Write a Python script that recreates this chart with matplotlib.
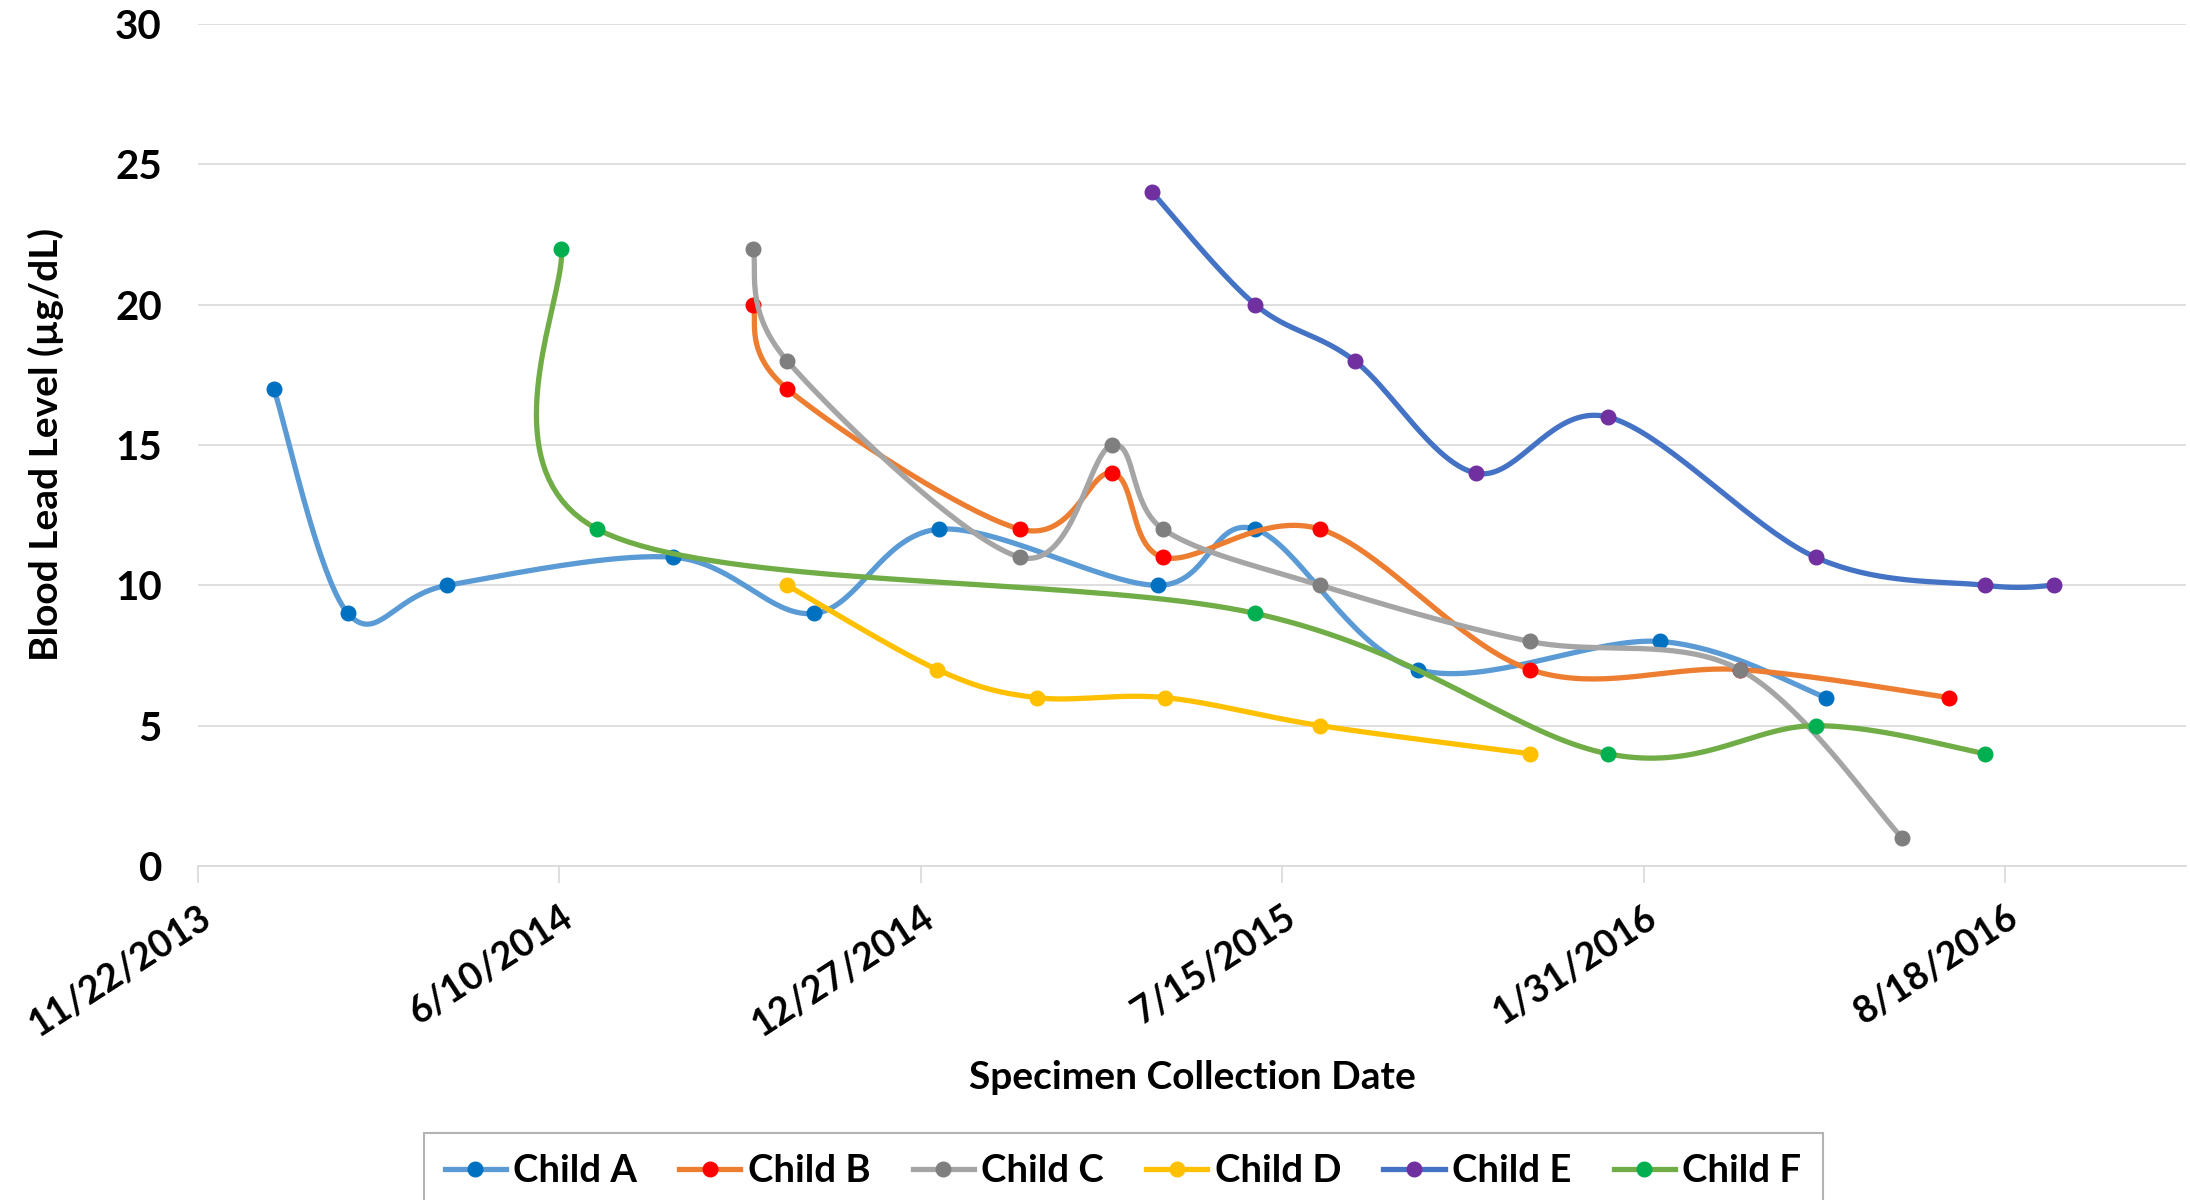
import numpy as np
import pandas as pd
import matplotlib
matplotlib.use("Agg")
import matplotlib.pyplot as plt
import matplotlib.dates as mdates
from matplotlib.lines import Line2D

plt.rcParams['font.family'] = ['Lato', 'DejaVu Sans']
plt.rcParams['font.weight'] = 'bold'

#%% data
children = ["Child A", "Child B", "Child C", "Child D", "Child E", "Child F"]

dates_a = ["2014-01-03", "2014-02-13", "2014-04-09", "2014-08-12", "2014-10-29", "2015-01-06",
           "2015-05-07", "2015-06-30", "2015-09-28", "2016-02-09", "2016-05-11"]
lead_a = [17, 9, 10, 11, 9, 12, 10, 12, 7, 8, 6]

dates_b = ["2014-09-25", "2014-10-14", "2015-02-20", "2015-04-12", "2015-05-10", "2015-08-05",
           "2015-11-29", "2016-03-24", "2016-07-18"]
lead_b = [20, 17, 12, 14, 11, 12, 7, 7, 6]

dates_c = ["2014-09-25", "2014-10-14", "2015-02-20", "2015-04-12", "2015-05-10", "2015-08-05",
           "2015-11-29", "2016-03-24", "2016-06-22"]
lead_c = [22, 18, 11, 15, 12, 10, 8, 7, 1]

dates_d = ["2014-10-14", "2015-01-05", "2015-03-01", "2015-05-11", "2015-08-05", "2015-11-29"]
lead_d = [10, 7, 6, 6, 5, 4]

dates_e = ["2015-05-04", "2015-06-30", "2015-08-24", "2015-10-30", "2016-01-11", "2016-05-05",
           "2016-08-07", "2016-09-14"]
lead_e = [24, 20, 18, 14, 16, 11, 10, 10]

dates_f = ["2014-06-11", "2014-07-01", "2015-06-30", "2016-01-11", "2016-05-05", "2016-08-07"]
lead_f = [22, 12, 9, 4, 5, 4]

line_colors = ["#5B9BD5", "#ED7D31", "#A5A5A5", "#FFC000", "#4472C4", "#70AD47"]
marker_colors = ["#0070C0", "#FF0000", "#7F7F7F", "#FFC000", "#7030A0", "#00B050"]

tick_dates = ["2013-11-22", "2014-06-10", "2014-12-27", "2015-07-15", "2016-01-31", "2016-08-18"]
x_start, x_end = "2013-11-22", "2016-11-26"

series = [(dates_a, lead_a), (dates_b, lead_b), (dates_c, lead_c),
          (dates_d, lead_d), (dates_e, lead_e), (dates_f, lead_f)]

#%% figure
fig = plt.figure(figsize=(21.9, 12), dpi=100)
ax = fig.add_axes([198 / 2190, 1 - 866 / 1200, 1988 / 2190, 842 / 1200])

x0 = mdates.datestr2num(x_start)
x1 = mdates.datestr2num(x_end)
ax_w, ax_h = 1988.0, 842.0
y_max = 30.0


def smooth(xs, ys, n=40):
    # excel-like smoothed line: catmull-rom bezier in screen space
    px = (np.asarray(xs) - x0) / (x1 - x0) * ax_w
    py = np.asarray(ys, dtype=float) / y_max * ax_h
    pts = np.column_stack([px, py])
    out = [pts[0]]
    for i in range(len(pts) - 1):
        p0 = pts[i - 1] if i > 0 else pts[i]
        p1 = pts[i]
        p2 = pts[i + 1]
        p3 = pts[i + 2] if i + 2 < len(pts) else pts[i + 1]
        c1 = p1 + (p2 - p0) / 6.0
        c2 = p2 - (p3 - p1) / 6.0
        t = np.linspace(0, 1, n)[1:, None]
        b = ((1 - t) ** 3) * p1 + 3 * ((1 - t) ** 2) * t * c1 + 3 * (1 - t) * t ** 2 * c2 + t ** 3 * p2
        out.extend(b)
    out = np.array(out)
    return out[:, 0] / ax_w * (x1 - x0) + x0, out[:, 1] / ax_h * y_max


for k, (dts, vals) in enumerate(series):
    xs = mdates.datestr2num(dts)
    sx, sy = smooth(xs, vals)
    ax.plot(sx, sy, color=line_colors[k], linewidth=3.8, solid_capstyle='round', zorder=2 + k)
    ax.plot(xs, vals, linestyle='none', marker='o', markersize=10.5,
            color=marker_colors[k], zorder=2 + k)

ax.set_xlim(x0, x1)
ax.set_ylim(0, 30)
ax.set_yticks(np.arange(0, 31, 5))
ax.set_xticks(mdates.datestr2num(tick_dates))
ax.set_xticklabels([f"{d.month}/{d.day}/{d.year}" for d in pd.to_datetime(tick_dates)],
                   rotation=33, ha='right', rotation_mode='anchor')

ax.grid(axis='y', color='#D9D9D9', linewidth=1.2)
ax.set_axisbelow(True)
for s in ['top', 'right', 'left']:
    ax.spines[s].set_visible(False)
ax.spines['bottom'].set_color('#D9D9D9')
ax.spines['bottom'].set_linewidth(1.2)
ax.tick_params(axis='y', length=0, pad=26, labelsize=29)
ax.tick_params(axis='x', length=12, width=1.2, color='#D9D9D9', pad=12, labelsize=27)

ax.set_xlabel("Specimen Collection Date", fontsize=28, fontweight='bold')
ax.xaxis.set_label_coords(0.5, -0.2506)
ax.xaxis.label.set_va('center')
ax.set_ylabel("Blood Lead Level (µg/dL)", fontsize=28, fontweight='bold')
ax.yaxis.set_label_coords(-0.0765, 0.501)
ax.yaxis.label.set_va('center')

handles = [Line2D([0], [0], color=line_colors[k], linewidth=3.8, marker='o', markersize=10.5,
                  markerfacecolor=marker_colors[k], markeredgecolor=marker_colors[k])
           for k in range(len(children))]
leg = fig.legend(handles, children, loc='upper center', bbox_to_anchor=(0.5128, 1 - 1114 / 1200),
                 ncol=6, fontsize=27.5, frameon=True, fancybox=False, handlelength=1.6,
                 handletextpad=0.2, columnspacing=1.1, borderpad=0.55)
leg.get_frame().set_edgecolor('#A0A0A0')
leg.get_frame().set_linewidth(1.5)

fig.savefig("out.png", dpi=100)
